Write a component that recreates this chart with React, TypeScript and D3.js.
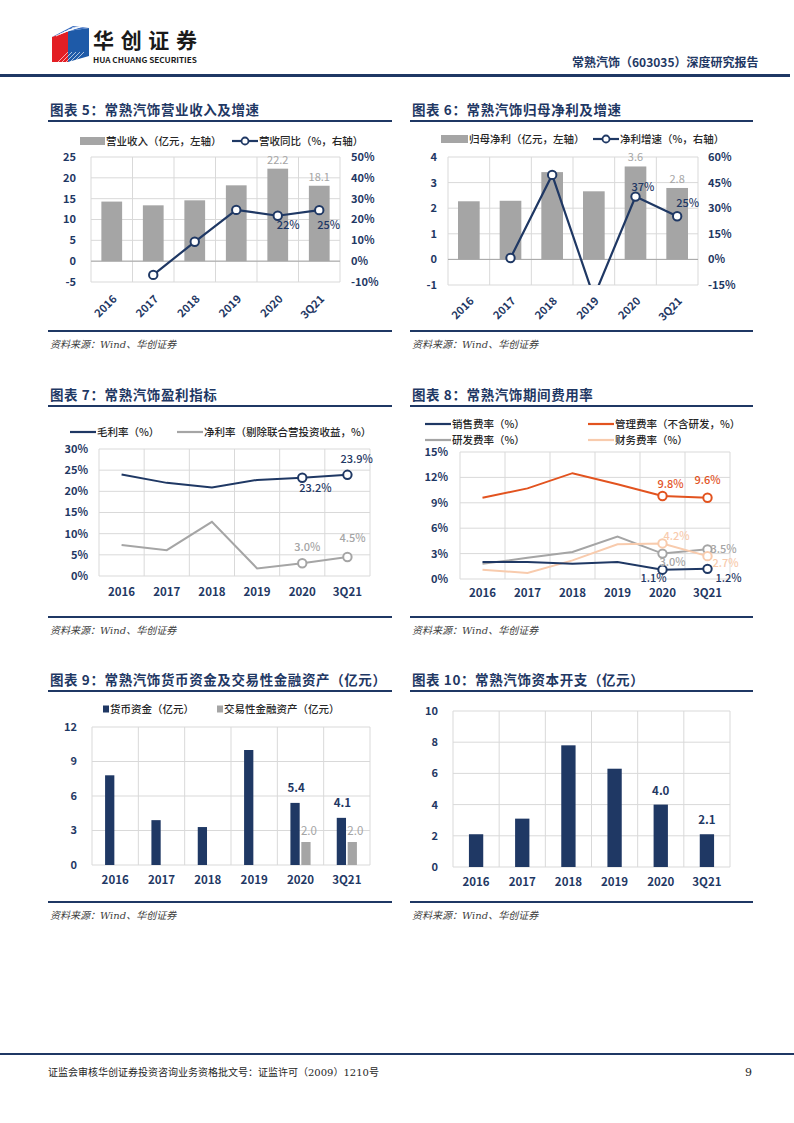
import React from 'react';
import * as d3 from 'd3';

const NAVY = '#1F3864';
const BAR_GRAY = '#A5A5A5';
const GRID = '#D9D9D9';
const ORANGE = '#E2531F';
const PEACH = '#F8CBAD';
const TEXT = '#262626';
const FONT = '"Noto Sans CJK SC", "Noto Sans", sans-serif';

// ---------- data ----------
const years = ['2016', '2017', '2018', '2019', '2020', '3Q21'];

const revenue = [14.3, 13.4, 14.6, 18.2, 22.2, 18.1];
const revenueGrowth: (number | null)[] = [null, -6.6, 9.3, 24.6, 21.8, 24.5];
const revTicks = [-5, 0, 5, 10, 15, 20, 25];
const revGrowthTicks = [-10, 0, 10, 20, 30, 40, 50];

const netProfit = [2.27, 2.29, 3.41, 2.66, 3.63, 2.79];
const profitGrowth: (number | null)[] = [null, 0.8, 49.5, -22.0, 36.8, 25.3];
const profitTicks = [-1, 0, 1, 2, 3, 4];
const profitGrowthTicks = [-15, 0, 15, 30, 45, 60];

const grossMargin = [24.0, 22.0, 20.9, 22.7, 23.2, 23.9];
const netMargin = [7.3, 6.1, 12.8, 1.8, 3.0, 4.5];
const marginTicks = [0, 5, 10, 15, 20, 25, 30];

const sellingRate = [2.0, 2.0, 1.8, 2.0, 1.1, 1.2];
const adminRate = [9.6, 10.7, 12.5, 11.2, 9.8, 9.6];
const rdRate = [1.8, 2.5, 3.2, 5.0, 3.0, 3.5];
const financeRate = [1.1, 0.7, 2.2, 4.1, 4.2, 2.7];
const expenseTicks = [0, 3, 6, 9, 12, 15];

const cash = [7.8, 3.9, 3.3, 10.0, 5.4, 4.1];
const tradingAssets: (number | null)[] = [null, null, null, null, 2.0, 2.0];
const cashTicks = [0, 3, 6, 9, 12];

const capex = [2.1, 3.1, 7.8, 6.3, 4.0, 2.1];
const capexTicks = [0, 2, 4, 6, 8, 10];

// ---------- helpers ----------
type Box = { x0: number; x1: number; y0: number; y1: number };

function Frame({ x0, x1, titleY, bottomY, title }: { x0: number; x1: number; titleY: number; bottomY: number; title: string }) {
  return (
    <g>
      <text x={x0 + 2} y={titleY} fontFamily={FONT} fontWeight={700} fontSize={13.5} fill={NAVY} letterSpacing={0.6}>{title}</text>
      <rect x={x0} y={titleY + 5} width={x1 - x0} height={2} fill={NAVY} />
      <rect x={x0} y={bottomY} width={x1 - x0} height={2} fill={NAVY} />
      <text x={x0 + 2} y={bottomY + 18} fontFamily='"DejaVu Serif", "Noto Sans CJK SC", serif' fontStyle="italic" fontSize={10} fill="#404040">资料来源：Wind、华创证券</text>
    </g>
  );
}

function Grid({ box, x, yTicks, y }: { box: Box; x: d3.ScaleBand<string>; yTicks: number[]; y: d3.ScaleLinear<number, number> }) {
  const xs = [...years.map((d) => x(d)!), box.x1];
  return (
    <g>
      {yTicks.map((t) => (
        <line key={'h' + t} x1={box.x0} x2={box.x1} y1={y(t)} y2={y(t)} stroke={GRID} strokeWidth={1} />
      ))}
      {xs.map((v, i) => (
        <line key={'v' + i} x1={v} x2={v} y1={box.y0} y2={box.y1} stroke={GRID} strokeWidth={1} />
      ))}
    </g>
  );
}

function YAxis({ ticks, y, x, anchor, fmt }: { ticks: number[]; y: d3.ScaleLinear<number, number>; x: number; anchor: string; fmt: (v: number) => string }) {
  return (
    <g>
      {ticks.map((t) => (
        <text key={t} x={x} y={y(t)} dy="0.36em" textAnchor={anchor} fontFamily={FONT} fontWeight={700} fontSize={11} fill={NAVY}>{fmt(t)}</text>
      ))}
    </g>
  );
}

function XAxis({ x, y }: { x: d3.ScaleBand<string>; y: number }) {
  return (
    <g>
      {years.map((d) => (
        <text key={d} x={x(d)! + x.bandwidth() / 2} y={y} textAnchor="middle" fontFamily={FONT} fontWeight={700} fontSize={11.5} fill={NAVY}>{d}</text>
      ))}
    </g>
  );
}

function XAxisRot({ x, y }: { x: d3.ScaleBand<string>; y: number }) {
  return (
    <g>
      {years.map((d) => {
        const cx = x(d)! + x.bandwidth() / 2 + 3;
        return (
          <text key={d} transform={`translate(${cx},${y}) rotate(-45)`} textAnchor="end" dy="0.35em" fontFamily={FONT} fontWeight={700} fontSize={11} fill={NAVY}>{d}</text>
        );
      })}
    </g>
  );
}

const pct = (v: number) => `${v}%`;
const num = (v: number) => `${v}`;

function LegendLine({ x, y, color, label, marker }: { x: number; y: number; color: string; label: string; marker?: boolean }) {
  return (
    <g>
      <line x1={x} x2={x + 26} y1={y} y2={y} stroke={color} strokeWidth={2.2} />
      {marker && <circle cx={x + 13} cy={y} r={3.5} fill="#fff" stroke={color} strokeWidth={1.8} />}
      <text x={x + 27} y={y} dy="0.36em" fontFamily={FONT} fontSize={10.5} fill={TEXT} fontWeight={500}>{label}</text>
    </g>
  );
}

function LegendRect({ x, y, w, h, color, label }: { x: number; y: number; w: number; h: number; color: string; label: string }) {
  return (
    <g>
      <rect x={x} y={y - h / 2} width={w} height={h} fill={color} />
      <text x={x + w + 1} y={y} dy="0.36em" fontFamily={FONT} fontSize={10.5} fill={TEXT} fontWeight={500}>{label}</text>
    </g>
  );
}

// ---------- chart 5 ----------
function Chart5() {
  const box = { x0: 91, x1: 340, y0: 157, y1: 282 };
  const x = d3.scaleBand<string>().domain(years).range([box.x0, box.x1]);
  const yL = d3.scaleLinear().domain([-5, 25]).range([box.y1, box.y0]);
  const yR = d3.scaleLinear().domain([-10, 50]).range([box.y1, box.y0]);
  const cx = (i: number) => x(years[i])! + x.bandwidth() / 2;
  const bw = x.bandwidth() * 0.5;
  const pts = revenueGrowth.map((v, i) => ({ i, v }));
  const line = d3.line<{ i: number; v: number | null }>().defined((d) => d.v != null).x((d) => cx(d.i)).y((d) => yR(d.v as number));
  const barLabels = [4, 5];
  const lineLabelOffsets: Record<number, [number, number]> = { 4: [-1, 13], 5: [-2, 19] };
  return (
    <g>
      <Frame x0={48} x1={392} titleY={115} bottomY={330} title="图表 5：常熟汽饰营业收入及增速" />
      <LegendRect x={80} y={141} w={25} h={8} color={BAR_GRAY} label="营业收入（亿元，左轴）" />
      <LegendLine x={232} y={141} color={NAVY} label="营收同比（%，右轴）" marker />
      <Grid box={box} x={x} yTicks={revTicks} y={yL} />
      {revenue.map((v, i) => (
        <rect key={i} x={cx(i) - bw / 2} y={yL(v)} width={bw} height={yL(0) - yL(v)} fill={BAR_GRAY} />
      ))}
      <line x1={box.x0} x2={box.x1} y1={yL(0)} y2={yL(0)} stroke="#A6A6A6" strokeWidth={1} />
      <path d={line(pts) || ''} fill="none" stroke={NAVY} strokeWidth={2.2} />
      {pts.filter((d) => d.v != null).map((d) => (
        <circle key={d.i} cx={cx(d.i)} cy={yR(d.v as number)} r={4.2} fill="#fff" stroke={NAVY} strokeWidth={2} />
      ))}
      {barLabels.map((i) => (
        <text key={'b' + i} x={cx(i)} y={yL(revenue[i]) - 5} textAnchor="middle" fontFamily={FONT} fontSize={11} fill={BAR_GRAY}>{revenue[i].toFixed(1)}</text>
      ))}
      {barLabels.map((i) => (
        <text key={'l' + i} x={cx(i) + lineLabelOffsets[i][0]} y={yR(revenueGrowth[i] as number) + lineLabelOffsets[i][1]} textAnchor="start" fontFamily={FONT} fontSize={11} fontWeight={500} fill={NAVY}>{Math.round(revenueGrowth[i] as number)}%</text>
      ))}
      <YAxis ticks={revTicks} y={yL} x={76} anchor="end" fmt={num} />
      <YAxis ticks={revGrowthTicks} y={yR} x={351} anchor="start" fmt={pct} />
      <XAxisRot x={x} y={297} />
    </g>
  );
}

// ---------- chart 6 ----------
function Chart6() {
  const box = { x0: 448, x1: 698, y0: 157, y1: 285 };
  const x = d3.scaleBand<string>().domain(years).range([box.x0, box.x1]);
  const yL = d3.scaleLinear().domain([-1, 4]).range([box.y1, box.y0]);
  const yR = d3.scaleLinear().domain([-15, 60]).range([box.y1, box.y0]);
  const cx = (i: number) => x(years[i])! + x.bandwidth() / 2;
  const bw = x.bandwidth() * 0.52;
  const pts = profitGrowth.map((v, i) => ({ i, v }));
  const line = d3.line<{ i: number; v: number | null }>().defined((d) => d.v != null).x((d) => cx(d.i)).y((d) => yR(d.v as number));
  const barLabels = [4, 5];
  const lineLabelOffsets: Record<number, [number, number]> = { 4: [-4, -6], 5: [-1, -9] };
  return (
    <g>
      <Frame x0={410} x1={753} titleY={115} bottomY={330} title="图表 6：常熟汽饰归母净利及增速" />
      <LegendRect x={441} y={139} w={27} h={8} color={BAR_GRAY} label="归母净利（亿元，左轴）" />
      <LegendLine x={593} y={139} color={NAVY} label="净利增速（%，右轴）" marker />
      <defs>
        <clipPath id="clip6">
          <rect x={box.x0} y={box.y0 - 10} width={box.x1 - box.x0} height={box.y1 - box.y0 + 10} />
        </clipPath>
      </defs>
      <Grid box={box} x={x} yTicks={profitTicks} y={yL} />
      {netProfit.map((v, i) => (
        <rect key={i} x={cx(i) - bw / 2} y={yL(v)} width={bw} height={yL(0) - yL(v)} fill={BAR_GRAY} />
      ))}
      <line x1={box.x0} x2={box.x1} y1={yL(0)} y2={yL(0)} stroke="#A6A6A6" strokeWidth={1} />
      <g clipPath="url(#clip6)">
        <path d={line(pts) || ''} fill="none" stroke={NAVY} strokeWidth={2.2} />
        {pts.filter((d) => d.v != null).map((d) => (
          <circle key={d.i} cx={cx(d.i)} cy={yR(d.v as number)} r={4.2} fill="#fff" stroke={NAVY} strokeWidth={2} />
        ))}
      </g>
      {barLabels.map((i) => (
        <text key={'b' + i} x={cx(i)} y={yL(netProfit[i]) - 5} textAnchor="middle" fontFamily={FONT} fontSize={11} fill={BAR_GRAY}>{netProfit[i].toFixed(1)}</text>
      ))}
      {barLabels.map((i) => (
        <text key={'l' + i} x={cx(i) + lineLabelOffsets[i][0]} y={yR(profitGrowth[i] as number) + lineLabelOffsets[i][1]} textAnchor="start" fontFamily={FONT} fontSize={11} fontWeight={500} fill={NAVY}>{Math.round(profitGrowth[i] as number)}%</text>
      ))}
      <YAxis ticks={profitTicks} y={yL} x={437} anchor="end" fmt={num} />
      <YAxis ticks={profitGrowthTicks} y={yR} x={708} anchor="start" fmt={pct} />
      <XAxisRot x={x} y={299} />
    </g>
  );
}

// ---------- chart 7 ----------
function Chart7() {
  const box = { x0: 99, x1: 370, y0: 449, y1: 576 };
  const x = d3.scaleBand<string>().domain(years).range([box.x0, box.x1]);
  const y = d3.scaleLinear().domain([0, 30]).range([box.y1, box.y0]);
  const cx = (i: number) => x(years[i])! + x.bandwidth() / 2;
  const line = d3.line<number>().x((_, i) => cx(i)).y((d) => y(d));
  const marked = [4, 5];
  const series = [
    { data: grossMargin, color: NAVY, offs: { 4: [-3, 14], 5: [-7, -12] } as Record<number, number[]> },
    { data: netMargin, color: BAR_GRAY, offs: { 4: [-8, -12], 5: [-8, -15] } as Record<number, number[]> },
  ];
  return (
    <g>
      <Frame x0={48} x1={392} titleY={400} bottomY={616} title="图表 7：常熟汽饰盈利指标" />
      <LegendLine x={70} y={432} color={NAVY} label="毛利率（%）" />
      <LegendLine x={177} y={432} color={BAR_GRAY} label="净利率（剔除联合营投资收益，%）" />
      <Grid box={box} x={x} yTicks={marginTicks} y={y} />
      {series.map((s, k) => (
        <g key={k}>
          <path d={line(s.data) || ''} fill="none" stroke={s.color} strokeWidth={2} />
          {marked.map((i) => (
            <circle key={i} cx={cx(i)} cy={y(s.data[i])} r={4.2} fill="#fff" stroke={s.color} strokeWidth={2} />
          ))}
          {marked.map((i) => (
            <text key={'t' + i} x={cx(i) + s.offs[i][0]} y={y(s.data[i]) + s.offs[i][1]} fontFamily={FONT} fontSize={11} fontWeight={500} fill={s.color}>{s.data[i].toFixed(1)}%</text>
          ))}
        </g>
      ))}
      <YAxis ticks={marginTicks} y={y} x={88} anchor="end" fmt={pct} />
      <XAxis x={x} y={596} />
    </g>
  );
}

// ---------- chart 8 ----------
function Chart8() {
  const box = { x0: 460, x1: 730, y0: 452, y1: 579 };
  const x = d3.scaleBand<string>().domain(years).range([box.x0, box.x1]);
  const y = d3.scaleLinear().domain([0, 15]).range([box.y1, box.y0]);
  const cx = (i: number) => x(years[i])! + x.bandwidth() / 2;
  const line = d3.line<number>().x((_, i) => cx(i)).y((d) => y(d));
  const marked = [4, 5];
  const series = [
    { data: rdRate, color: BAR_GRAY, offs: { 4: [-3, 12, 'start'], 5: [3, 4, 'start'] } as Record<number, any[]> },
    { data: financeRate, color: PEACH, offs: { 4: [1, -3, 'start'], 5: [5, 11, 'start'] } as Record<number, any[]> },
    { data: sellingRate, color: NAVY, offs: { 4: [-9, 12, 'middle'], 5: [8, 13, 'start'] } as Record<number, any[]> },
    { data: adminRate, color: ORANGE, offs: { 4: [8, -8, 'middle'], 5: [0, -14, 'middle'] } as Record<number, any[]> },
  ];
  return (
    <g>
      <Frame x0={410} x1={753} titleY={400} bottomY={616} title="图表 8：常熟汽饰期间费用率" />
      <LegendLine x={425} y={424} color={NAVY} label="销售费率（%）" />
      <LegendLine x={588} y={424} color={ORANGE} label="管理费率（不含研发，%）" />
      <LegendLine x={425} y={440} color={BAR_GRAY} label="研发费率（%）" />
      <LegendLine x={588} y={440} color={PEACH} label="财务费率（%）" />
      <Grid box={box} x={x} yTicks={expenseTicks} y={y} />
      {series.map((s, k) => (
        <g key={k}>
          <path d={line(s.data) || ''} fill="none" stroke={s.color} strokeWidth={2} />
          {marked.map((i) => (
            <circle key={i} cx={cx(i)} cy={y(s.data[i])} r={4.2} fill="#fff" stroke={s.color} strokeWidth={2} />
          ))}
        </g>
      ))}
      {series.map((s, k) => (
        <g key={'lab' + k}>
          {marked.map((i) => (
            <text key={'t' + i} x={cx(i) + s.offs[i][0]} y={y(s.data[i]) + s.offs[i][1]} textAnchor={s.offs[i][2]} fontFamily={FONT} fontSize={11} fontWeight={500} fill={s.color}>{s.data[i].toFixed(1)}%</text>
          ))}
        </g>
      ))}
      <YAxis ticks={expenseTicks} y={y} x={448} anchor="end" fmt={pct} />
      <XAxis x={x} y={597} />
    </g>
  );
}

// ---------- chart 9 ----------
function Chart9() {
  const box = { x0: 92, x1: 370, y0: 727, y1: 865 };
  const x = d3.scaleBand<string>().domain(years).range([box.x0, box.x1]);
  const y = d3.scaleLinear().domain([0, 12]).range([box.y1, box.y0]);
  const inner = d3.scaleBand<string>().domain(['cash', 'trade']).range([0, x.bandwidth()]).paddingInner(0.15).paddingOuter(1.2);
  const bw = inner.bandwidth();
  const labeled = [4, 5];
  return (
    <g>
      <Frame x0={48} x1={392} titleY={685} bottomY={901} title="图表 9：常熟汽饰货币资金及交易性金融资产（亿元）" />
      <LegendRect x={103} y={709} w={6} h={7} color={NAVY} label="货币资金（亿元）" />
      <LegendRect x={217} y={709} w={6} h={7} color={BAR_GRAY} label="交易性金融资产（亿元）" />
      <Grid box={box} x={x} yTicks={cashTicks} y={y} />
      {cash.map((v, i) => (
        <rect key={'c' + i} x={x(years[i])! + inner('cash')!} y={y(v)} width={bw} height={y(0) - y(v)} fill={NAVY} />
      ))}
      {tradingAssets.map((v, i) => v == null ? null : (
        <rect key={'t' + i} x={x(years[i])! + inner('trade')!} y={y(v)} width={bw} height={y(0) - y(v)} fill={BAR_GRAY} />
      ))}
      {labeled.map((i) => (
        <text key={'lc' + i} x={x(years[i])! + inner('cash')! + bw / 2 + 1} y={y(cash[i]) - 11} textAnchor="middle" fontFamily={FONT} fontSize={11.5} fontWeight={700} fill={NAVY}>{cash[i].toFixed(1)}</text>
      ))}
      {labeled.map((i) => (
        <text key={'lt' + i} x={x(years[i])! + inner('trade')! + bw / 2 + 3} y={y(tradingAssets[i] as number) - 7} textAnchor="middle" fontFamily={FONT} fontSize={11.5} fill={BAR_GRAY}>{(tradingAssets[i] as number).toFixed(1)}</text>
      ))}
      <YAxis ticks={cashTicks} y={y} x={77} anchor="end" fmt={num} />
      <XAxis x={x} y={884} />
    </g>
  );
}

// ---------- chart 10 ----------
function Chart10() {
  const box = { x0: 453, x1: 730, y0: 711, y1: 867 };
  const x = d3.scaleBand<string>().domain(years).range([box.x0, box.x1]);
  const y = d3.scaleLinear().domain([0, 10]).range([box.y1, box.y0]);
  const cx = (i: number) => x(years[i])! + x.bandwidth() / 2;
  const bw = x.bandwidth() * 0.31;
  const labeled = [4, 5];
  return (
    <g>
      <Frame x0={410} x1={753} titleY={685} bottomY={901} title="图表 10：常熟汽饰资本开支（亿元）" />
      <Grid box={box} x={x} yTicks={capexTicks} y={y} />
      {capex.map((v, i) => (
        <rect key={i} x={cx(i) - bw / 2} y={y(v)} width={bw} height={y(0) - y(v)} fill={NAVY} />
      ))}
      {labeled.map((i) => (
        <text key={'l' + i} x={cx(i)} y={y(capex[i]) - 10} textAnchor="middle" fontFamily={FONT} fontSize={11.5} fontWeight={700} fill={NAVY}>{capex[i].toFixed(1)}</text>
      ))}
      <YAxis ticks={capexTicks} y={y} x={438} anchor="end" fmt={num} />
      <XAxis x={x} y={886} />
    </g>
  );
}

function Header() {
  return (
    <g>
      {/* logo cube */}
      <polygon points="52,37 68,31 68,62 52,62" fill="#E31E24" />
      <polygon points="68,31 89,28 89,56 68,62" fill="#1E5AA8" />
      <polygon points="52,37 73,26 89,28 68,31" fill="#3D6FC0" />
      {[0, 1, 2, 3, 4].map((k) => (
        <line key={k} x1={56 + k * 4} y1={36 - k * 2} x2={74 + k * 3} y2={28 - k * 0.5} stroke="#fff" strokeWidth={0.8} />
      ))}
      {[0, 1, 2, 3, 4].map((k) => (
        <line key={'b' + k} x1={58 + k * 4} y1={62} x2={68 + k * 4} y2={52} stroke="#fff" strokeWidth={0.8} opacity={0.8} />
      ))}
      <text x={93} y={48} fontFamily={FONT} fontWeight={700} fontSize={21} fill="#1a1a1a" textLength={104} lengthAdjust="spacing">华创证券</text>
      <text x={93} y={62.5} fontFamily={FONT} fontWeight={700} fontSize={7.5} fill="#1a1a1a" textLength={104} lengthAdjust="spacingAndGlyphs">HUA CHUANG SECURITIES</text>
      <text x={572} y={67} fontFamily={FONT} fontWeight={700} fontSize={12} fill={NAVY}>常熟汽饰（603035）深度研究报告</text>
      <rect x={0} y={74} width={790} height={3} fill={NAVY} />
    </g>
  );
}

function Footer() {
  return (
    <g>
      <rect x={0} y={1053} width={794} height={2} fill={NAVY} />
      <text x={48} y={1076} fontFamily='"DejaVu Serif", "Noto Sans CJK SC", serif' fontSize={10} fill="#262626">证监会审核华创证券投资咨询业务资格批文号：证监许可（2009）1210号</text>
      <text x={745} y={1076} fontFamily='"DejaVu Serif", serif' fontSize={11} fill="#262626">9</text>
    </g>
  );
}

export default function App() {
  return (
    <div style={{ position: 'absolute', left: 0, top: 0, width: 794, height: 1123, background: '#fff' }}>
      <svg width={794} height={1123} viewBox="0 0 794 1123" style={{ display: 'block' }}>
        <rect width={794} height={1123} fill="#fff" />
        <Header />
        <Chart5 />
        <Chart6 />
        <Chart7 />
        <Chart8 />
        <Chart9 />
        <Chart10 />
        <Footer />
      </svg>
    </div>
  );
}
